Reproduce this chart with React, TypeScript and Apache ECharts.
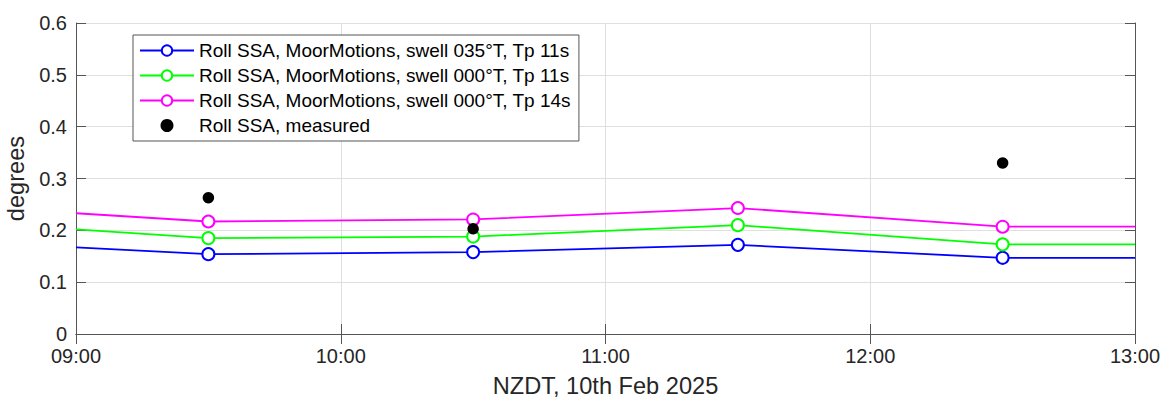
import React, { useEffect, useRef } from "react";
import * as echarts from "echarts";

const modelTimes = ["09:00", "09:30", "10:30", "11:30", "12:30", "13:00"];
const markerShown = [false, true, true, true, true, false];
const roll035Tp11 = [0.167, 0.154, 0.158, 0.172, 0.147, 0.147];
const roll000Tp11 = [0.202, 0.185, 0.188, 0.21, 0.173, 0.173];
const roll000Tp14 = [0.233, 0.217, 0.221, 0.243, 0.207, 0.207];
const measuredTimes = ["09:30", "10:30", "12:30"];
const measuredValues = [0.263, 0.203, 0.33];

const seriesNames = [
  "Roll SSA, MoorMotions, swell 035°T, Tp 11s",
  "Roll SSA, MoorMotions, swell 000°T, Tp 11s",
  "Roll SSA, MoorMotions, swell 000°T, Tp 14s",
  "Roll SSA, measured",
];
const seriesColors = ["#0000ff", "#00ff00", "#ff00ff", "#000000"];

const FONT = "'Liberation Sans', Arial, Helvetica, sans-serif";
const TXT = "#262626";

const toHours = (s: string) => {
  const [h, m] = s.split(":").map(Number);
  return h + m / 60;
};

const lineData = (vals: number[]) =>
  vals.map((v, i) =>
    markerShown[i]
      ? { value: [toHours(modelTimes[i]), v] }
      : { value: [toHours(modelTimes[i]), v], symbol: "none" }
  );

export default function App() {
  const ref = useRef<HTMLDivElement>(null);
  useEffect(() => {
    document.body.style.margin = "0";
    const chart = echarts.init(ref.current!, null, { renderer: "svg" });
    const axisLine = { show: true, lineStyle: { color: "#555", width: 1 } };
    const axisTick = { show: true, inside: true, length: 10, lineStyle: { color: "#555", width: 1 } };
    const lineSeries = [roll035Tp11, roll000Tp11, roll000Tp14].map((vals, k) => ({
      name: seriesNames[k],
      type: "line",
      data: lineData(vals),
      symbol: "emptyCircle",
      symbolSize: 12,
      showSymbol: true,
      lineStyle: { color: seriesColors[k], width: 1.8 },
      itemStyle: { color: seriesColors[k], borderWidth: 1.8 },
      z: 3,
    }));
    chart.setOption({
      animation: false,
      backgroundColor: "#ffffff",
      textStyle: { fontFamily: FONT },
      grid: { left: 76, right: 28, top: 23, bottom: 64, containLabel: false, outerBoundsMode: "none" },
      legend: {
        orient: "vertical",
        left: 133,
        top: 35,
        padding: [6, 8, 6, 6],
        itemGap: 6,
        itemWidth: 54,
        itemHeight: 13,
        backgroundColor: "#ffffff",
        borderColor: "#555",
        borderWidth: 1,
        borderRadius: 0,
        textStyle: { fontFamily: FONT, fontSize: 19, color: "#000" },
        data: seriesNames,
      },
      xAxis: [
        {
          type: "value",
          min: 9,
          max: 13,
          interval: 1,
          axisLine,
          axisTick,
          axisLabel: {
            color: TXT,
            fontSize: 20,
            fontFamily: FONT,
            margin: 12,
            formatter: (v: number) => `${String(v).padStart(2, "0")}:00`,
          },
          splitLine: { show: true, lineStyle: { color: "#dfdfdf", width: 1 } },
          name: "NZDT, 10th Feb 2025",
          nameLocation: "middle",
          nameGap: 40,
          nameTextStyle: { color: TXT, fontSize: 23.6, fontFamily: FONT },
        },
        {
          type: "value",
          position: "top",
          min: 9,
          max: 13,
          interval: 1,
          axisLine,
          axisTick,
          axisLabel: { show: false },
          splitLine: { show: false },
        },
      ],
      yAxis: [
        {
          type: "value",
          min: 0,
          max: 0.6,
          interval: 0.1,
          axisLine,
          axisTick,
          axisLabel: {
            color: TXT,
            fontSize: 20,
            fontFamily: FONT,
            margin: 9,
            formatter: (v: number) => (v === 0 ? "0" : v.toFixed(1)),
          },
          splitLine: { show: true, lineStyle: { color: "#dfdfdf", width: 1 } },
          name: "degrees",
          nameLocation: "middle",
          nameGap: 47,
          nameTextStyle: { color: TXT, fontSize: 23.6, fontFamily: FONT },
        },
        {
          type: "value",
          position: "right",
          min: 0,
          max: 0.6,
          interval: 0.1,
          axisLine,
          axisTick,
          axisLabel: { show: false },
          splitLine: { show: false },
        },
      ],
      series: [
        ...lineSeries,
        {
          name: seriesNames[3],
          type: "scatter",
          data: measuredTimes.map((t, i) => [toHours(t), measuredValues[i]]),
          symbol: "circle",
          symbolSize: 11.5,
          itemStyle: { color: "#000000", opacity: 1 },
          z: 4,
        },
      ],
    });
    return () => chart.dispose();
  }, []);
  return <div ref={ref} style={{ width: 1163, height: 398 }} />;
}
